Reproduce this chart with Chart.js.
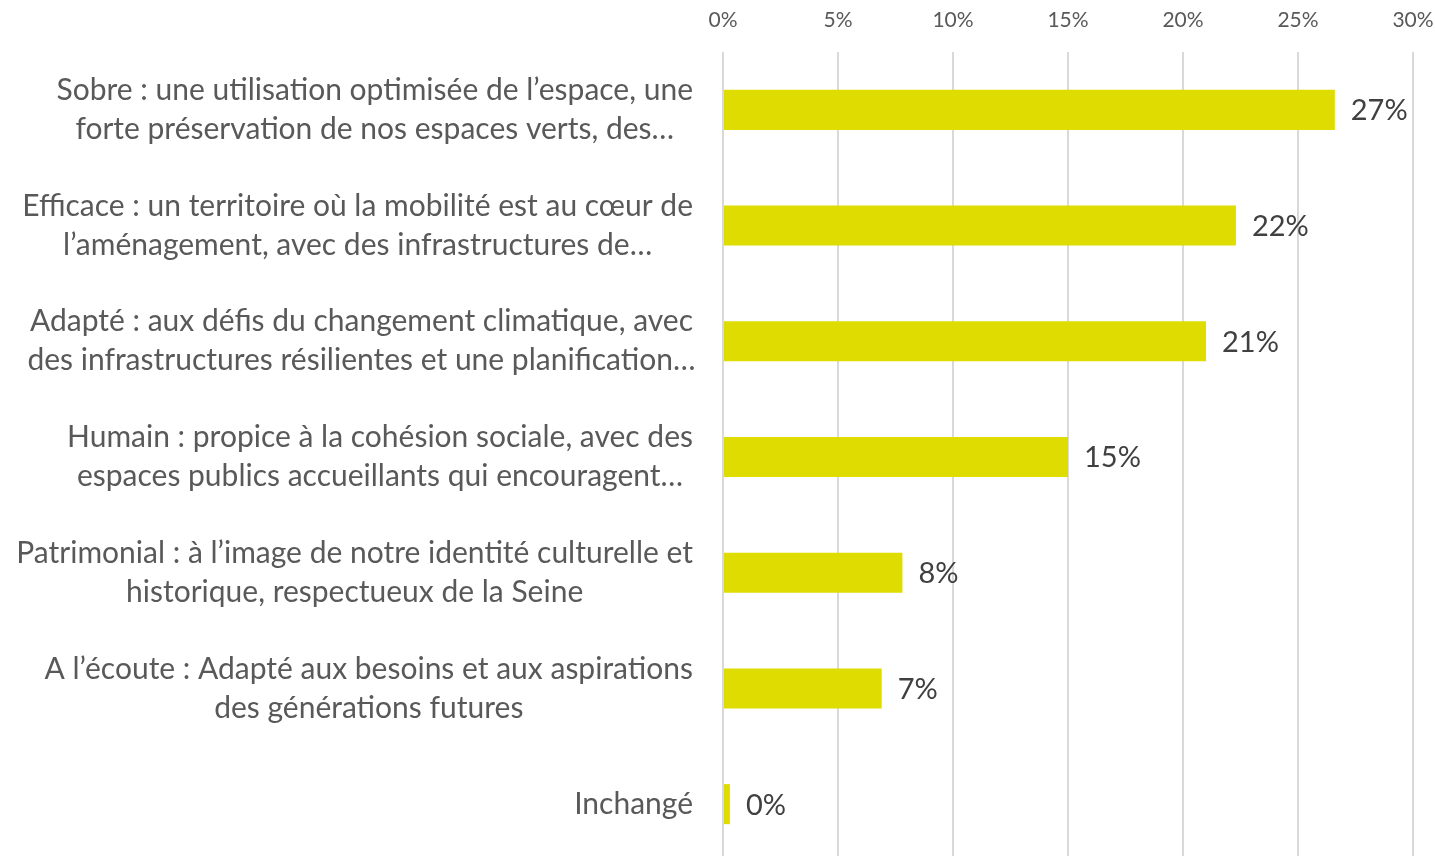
<!DOCTYPE html>
<html>
<head>
<meta charset="utf-8">
<script src="https://cdn.jsdelivr.net/npm/chart.js@4/dist/chart.umd.min.js"></script>
<style>
html,body{margin:0;padding:0;background:#fff;overflow:hidden;width:1435px;height:856px;}
#wrap{position:absolute;left:0;top:0;width:1435px;height:862px;}
</style>
</head>
<body>
<div id="wrap"><canvas id="chart" width="1435" height="862"></canvas></div>
<script>
const categories = [
  ["Sobre : une utilisation optimisée de l\u2019espace, une", "forte préservation de nos espaces verts, des\u2026"],
  ["Efficace : un territoire où la mobilité est au cœur de", "l\u2019aménagement, avec des infrastructures de\u2026"],
  ["Adapté : aux défis du changement climatique, avec", "des infrastructures résilientes et une planification\u2026"],
  ["Humain : propice à la cohésion sociale, avec des", "espaces publics accueillants qui encouragent\u2026"],
  ["Patrimonial : à l\u2019image de notre identité culturelle et", "historique, respectueux de la Seine"],
  ["A l\u2019écoute : Adapté aux besoins et aux aspirations", "des générations futures"],
  ["Inchangé"]
];
const values = [26.6, 22.3, 21.0, 15.0, 7.8, 6.9, 0.3];
const valueLabels = ["27%", "22%", "21%", "15%", "8%", "7%", "0%"];
const xTickValues = [0, 5, 10, 15, 20, 25, 30];

const FONT = 'Lato';

const labelPlugin = {
  id: 'customLabels',
  afterDatasetsDraw(chart) {
    const ctx = chart.ctx;
    const meta = chart.getDatasetMeta(0);
    ctx.save();
    ctx.font = '29px ' + FONT;
    ctx.fillStyle = '#404040';
    ctx.textAlign = 'left';
    ctx.textBaseline = 'middle';
    meta.data.forEach((bar, i) => {
      ctx.fillText(valueLabels[i], bar.x + 16, bar.y + 1);
    });
    ctx.restore();
  },
  afterDraw(chart) {
    const ctx = chart.ctx;
    const yScale = chart.scales.y;
    const right = chart.chartArea.left - 30;
    const lh = 39;
    ctx.save();
    ctx.font = '30px ' + FONT;
    ctx.fillStyle = '#595959';
    ctx.textAlign = 'center';
    ctx.textBaseline = 'middle';
    categories.forEach((lines, i) => {
      const yc = yScale.getPixelForValue(i);
      const w0 = ctx.measureText(lines[0]).width;
      const cx = right - w0 / 2;
      const y0 = yc - (lines.length - 1) * lh / 2;
      lines.forEach((ln, j) => ctx.fillText(ln, cx, y0 + j * lh));
    });
    ctx.restore();
  }
};

new Chart(document.getElementById('chart'), {
  type: 'bar',
  data: {
    labels: categories.map(c => c.join(' ')),
    datasets: [{
      data: values,
      backgroundColor: '#DEDC00',
      borderWidth: 0,
      barPercentage: 0.346,
      categoryPercentage: 1.0
    }]
  },
  options: {
    indexAxis: 'y',
    responsive: false,
    animation: false,
    devicePixelRatio: 1,
    layout: { padding: { left: 0, right: 22, top: 0, bottom: 0 } },
    plugins: { legend: { display: false }, tooltip: { enabled: false } },
    scales: {
      x: {
        position: 'top',
        min: 0,
        max: 30,
        afterBuildTicks(scale) { scale.ticks = xTickValues.map(v => ({ value: v })); },
        afterFit(scale) { scale.height = 52; scale.paddingRight = 0; scale.paddingLeft = 0; },
        ticks: {
          callback: v => v + '%',
          color: '#595959',
          font: { family: FONT, size: 21 },
          padding: 19,
          maxRotation: 0
        },
        grid: { color: '#D9D9D9', lineWidth: 2, drawTicks: false },
        border: { display: false }
      },
      y: {
        afterFit(scale) { scale.width = 723; },
        ticks: { display: false },
        grid: { display: false },
        border: { display: false }
      }
    }
  },
  plugins: [labelPlugin]
});
</script>
</body>
</html>
